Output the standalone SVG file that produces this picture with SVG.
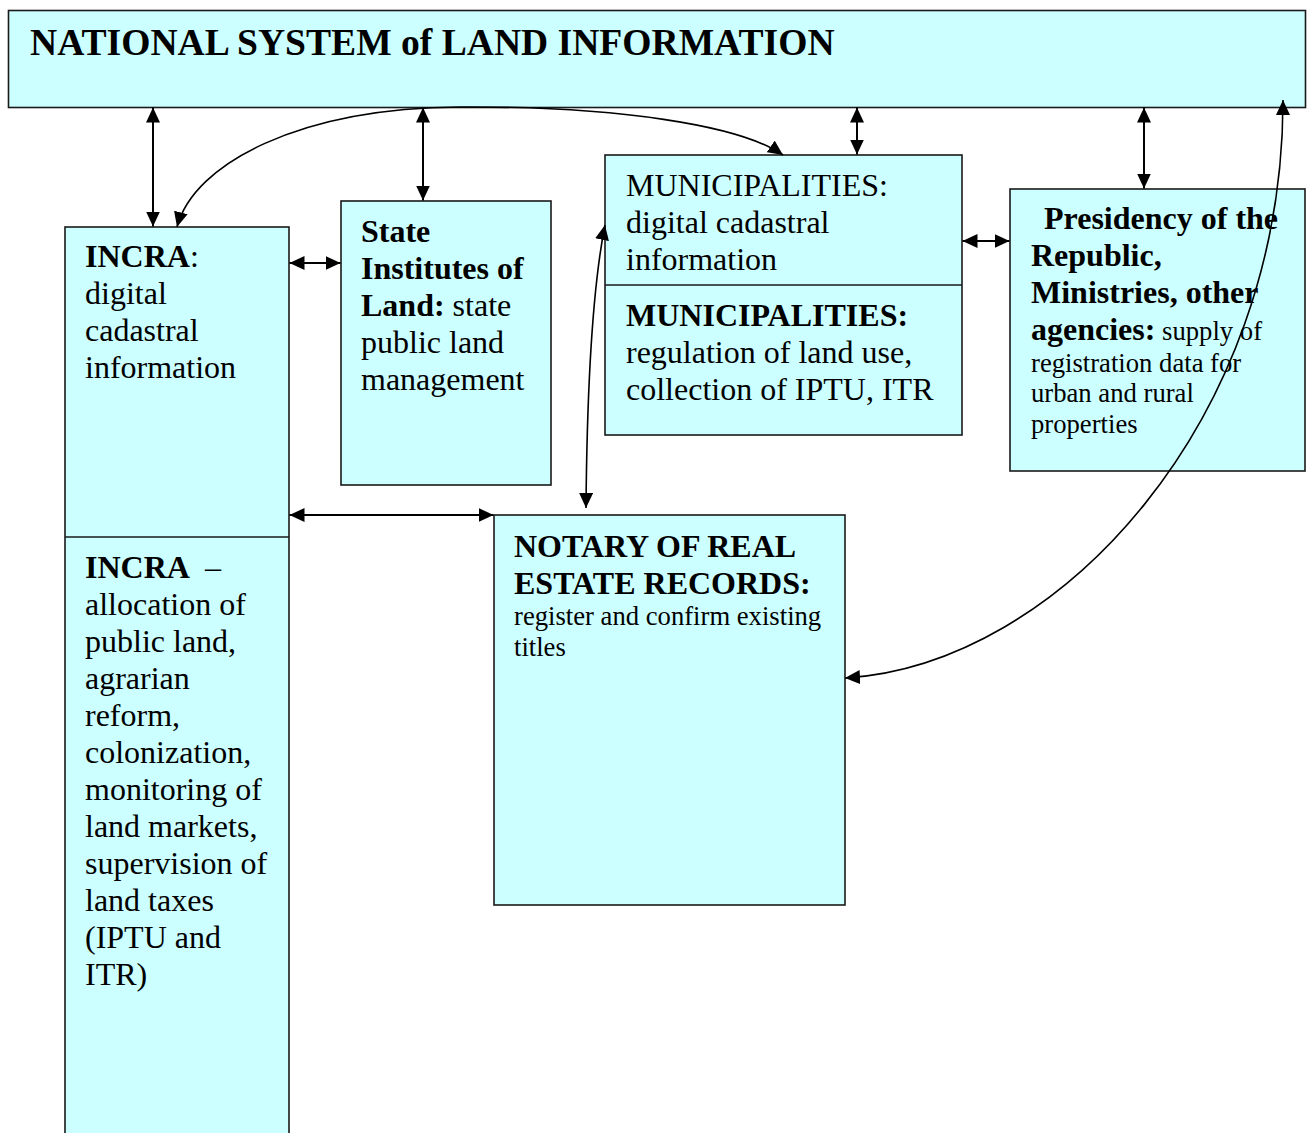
<svg xmlns="http://www.w3.org/2000/svg" width="1315" height="1133" viewBox="0 0 1315 1133">
  <defs>
    <style>
      .box { fill: #CCFFFF; stroke: #1a1a1a; stroke-width: 1.6; }
      .t { font-family: "Liberation Serif", "Times New Roman", serif; font-size: 32px; fill: #000; }
      .b { font-weight: bold; }
      .s { font-size: 26.67px; }
      .title { font-size: 37.6px; }
      .conn { fill: none; stroke: #000; stroke-width: 2; marker-start: url(#ah); marker-end: url(#ah); }
      .curve { stroke-width: 1.6; }
    </style>
    <marker id="ah" markerUnits="userSpaceOnUse" markerWidth="15" markerHeight="14" viewBox="0 0 15 14" refX="15" refY="7" orient="auto-start-reverse">
      <path d="M0,0 L15,7 L0,14 z" fill="#000"/>
    </marker>
  </defs>

  <rect width="1315" height="1133" fill="#fff"/>

  <!-- header -->
  <g id="national-system">
    <rect class="box" x="8.5" y="10.5" width="1297" height="97"/>
    <text class="t b title" x="30" y="55">NATIONAL SYSTEM of LAND INFORMATION</text>
  </g>

  <!-- INCRA column, two stacked cells -->
  <g id="incra">
    <rect class="box" x="65" y="227" width="224" height="920"/>
    <line x1="65" y1="537" x2="289" y2="537" stroke="#1a1a1a" stroke-width="1.6"/>
    <text class="t" x="85" y="267"><tspan class="b">INCRA</tspan>:</text>
    <text class="t" x="85" y="304">digital</text>
    <text class="t" x="85" y="341">cadastral</text>
    <text class="t" x="85" y="378">information</text>

    <text class="t" x="85" y="578"><tspan class="b">INCRA</tspan><tspan x="205">–</tspan></text>
    <text class="t" x="85" y="615">allocation of</text>
    <text class="t" x="85" y="652">public land,</text>
    <text class="t" x="85" y="689">agrarian</text>
    <text class="t" x="85" y="726">reform,</text>
    <text class="t" x="85" y="763">colonization,</text>
    <text class="t" x="85" y="800">monitoring of</text>
    <text class="t" x="85" y="837">land markets,</text>
    <text class="t" x="85" y="874">supervision of</text>
    <text class="t" x="85" y="911">land taxes</text>
    <text class="t" x="85" y="948">(IPTU and</text>
    <text class="t" x="85" y="985">ITR)</text>
  </g>

  <g id="state-institutes">
    <rect class="box" x="341" y="201" width="210" height="284"/>
    <text class="t b" x="361" y="242">State</text>
    <text class="t b" x="361" y="279">Institutes of</text>
    <text class="t" x="361" y="316"><tspan class="b">Land:</tspan> state</text>
    <text class="t" x="361" y="353">public land</text>
    <text class="t" x="361" y="390">management</text>
  </g>

  <g id="municipalities">
    <rect class="box" x="605" y="155" width="357" height="280"/>
    <line x1="605" y1="285" x2="962" y2="285" stroke="#1a1a1a" stroke-width="1.6"/>
    <text class="t" x="626" y="196">MUNICIPALITIES:</text>
    <text class="t" x="626" y="233">digital cadastral</text>
    <text class="t" x="626" y="270">information</text>
    <text class="t b" x="626" y="326">MUNICIPALITIES:</text>
    <text class="t" x="626" y="363">regulation of land use,</text>
    <text class="t" x="626" y="400">collection of IPTU, ITR</text>
  </g>

  <g id="presidency">
    <rect class="box" x="1010" y="189" width="295" height="282"/>
    <text class="t b" x="1044" y="229">Presidency of the</text>
    <text class="t b" x="1031" y="266">Republic,</text>
    <text class="t b" x="1031" y="303">Ministries, other</text>
    <text class="t" x="1031" y="340"><tspan class="b">agencies:</tspan><tspan class="s"> supply of</tspan></text>
    <text class="t s" x="1031" y="372">registration data for</text>
    <text class="t s" x="1031" y="402">urban and rural</text>
    <text class="t s" x="1031" y="433">properties</text>
  </g>

  <g id="notary">
    <rect class="box" x="494" y="515" width="351" height="390"/>
    <text class="t b" x="514" y="557">NOTARY OF REAL</text>
    <text class="t b" x="514" y="594">ESTATE RECORDS:</text>
    <text class="t s" x="514" y="625">register and confirm existing</text>
    <text class="t s" x="514" y="656">titles</text>
  </g>

  <!-- connectors: two-way arrows between the bodies -->
  <g id="connectors">
    <path class="conn" d="M153,107.5 V226.5"/>
    <path class="conn" d="M423,107.5 V200.5"/>
    <path class="conn" d="M857,107.5 V154.5"/>
    <path class="conn" d="M1144,107.5 V188.5"/>
    <path class="conn" d="M289.5,263 H340.5"/>
    <path class="conn" d="M962.5,241 H1009.5"/>
    <path class="conn" d="M289.5,515 H493.5"/>
    <path class="conn curve" d="M177,227 C194,163 300,108 460,107 C615,106 740,125 783,155"/>
    <path class="conn curve" d="M586,508 C587,390 592,290 605,225"/>
    <path class="conn curve" d="M845,678 C1060,665 1283,420 1283,100"/>
  </g>
</svg>
